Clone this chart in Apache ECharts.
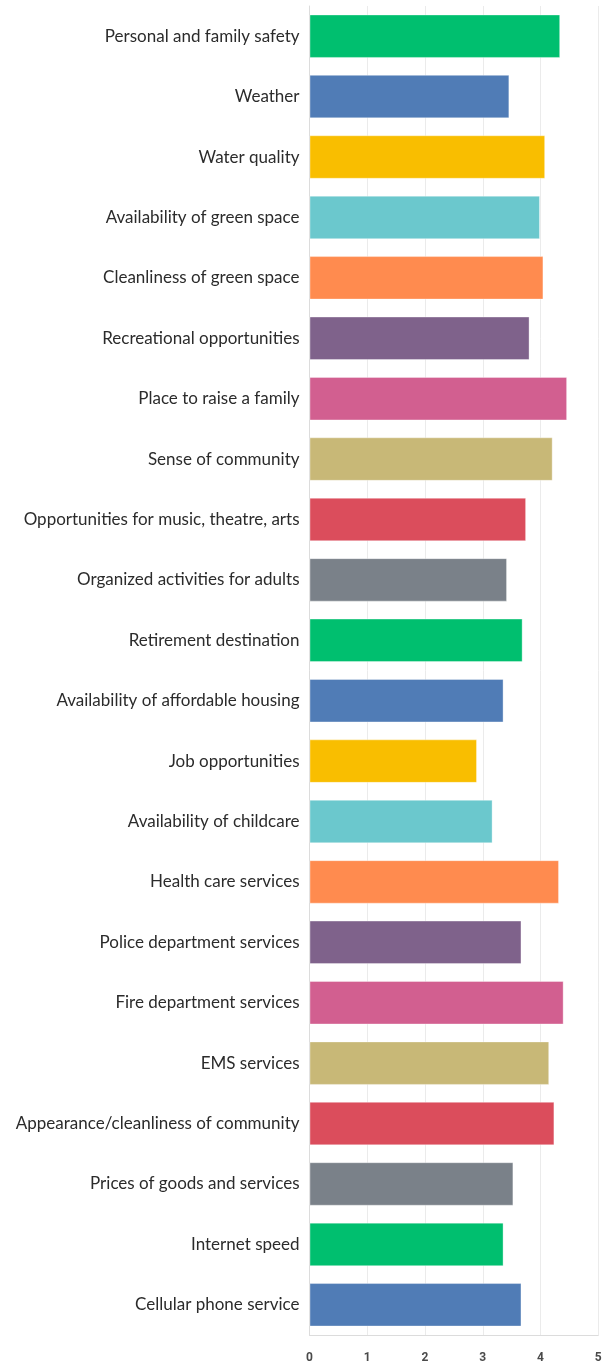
<!DOCTYPE html>
<html>
<head>
<meta charset="utf-8">
<script src="https://cdn.jsdelivr.net/npm/echarts@6/dist/echarts.min.js"></script>
<style>
  html, body { margin: 0; padding: 0; background: #fff; }
  #chart { width: 605px; height: 1364px; }
</style>
</head>
<body>
<div id="chart"></div>
<script>
// Average rating per community attribute (scale 0–5)
const categories = [
  'Personal and family safety',
  'Weather',
  'Water quality',
  'Availability of green space',
  'Cleanliness of green space',
  'Recreational opportunities',
  'Place to raise a family',
  'Sense of community',
  'Opportunities for music, theatre, arts',
  'Organized activities for adults',
  'Retirement destination',
  'Availability of affordable housing',
  'Job opportunities',
  'Availability of childcare',
  'Health care services',
  'Police department services',
  'Fire department services',
  'EMS services',
  'Appearance/cleanliness of community',
  'Prices of goods and services',
  'Internet speed',
  'Cellular phone service'
];

const ratings = [
  4.34, 3.46, 4.08, 3.99, 4.05, 3.81, 4.46, 4.21, 3.75, 3.42, 3.69,
  3.36, 2.90, 3.17, 4.32, 3.67, 4.40, 4.15, 4.24, 3.53, 3.36, 3.67
];

const axisTicks = [0, 1, 2, 3, 4, 5];

const palette = [
  '#00BF6F', '#507CB6', '#F9BE00', '#6BC8CD', '#FF8B4F',
  '#7F628B', '#D25F90', '#C8B877', '#DB4D5C', '#7A8189'
];

const chart = echarts.init(document.getElementById('chart'), null, { renderer: 'canvas' });

chart.setOption({
  animation: false,
  backgroundColor: '#ffffff',
  grid: { left: 309.5, right: 6.7, top: 6, bottom: 28, containLabel: false },
  xAxis: {
    type: 'value',
    min: axisTicks[0],
    max: axisTicks[axisTicks.length - 1],
    interval: 1,
    axisLine: { show: true, lineStyle: { color: '#dcdcdc', width: 1 } },
    axisTick: { show: false },
    splitLine: { show: true, lineStyle: { color: '#ebebeb', width: 1 } },
    axisLabel: {
      color: '#4a4a4a',
      fontFamily: 'Roboto',
      fontWeight: 'bold',
      fontSize: 12,
      margin: 17
    }
  },
  yAxis: {
    type: 'category',
    inverse: true,
    data: categories,
    axisLine: { show: true, lineStyle: { color: '#dcdcdc', width: 1 } },
    axisTick: { show: false },
    axisLabel: {
      color: '#2b2b2b',
      fontFamily: 'Lato',
      fontSize: 17,
      margin: 10
    }
  },
  series: [{
    type: 'bar',
    data: ratings.map((v, i) => ({
      value: v,
      itemStyle: { color: palette[i % palette.length] }
    })),
    barCategoryGap: '28%',
    itemStyle: { borderColor: 'rgba(255,255,255,0.35)', borderWidth: 1 }
  }]
});
</script>
</body>
</html>
